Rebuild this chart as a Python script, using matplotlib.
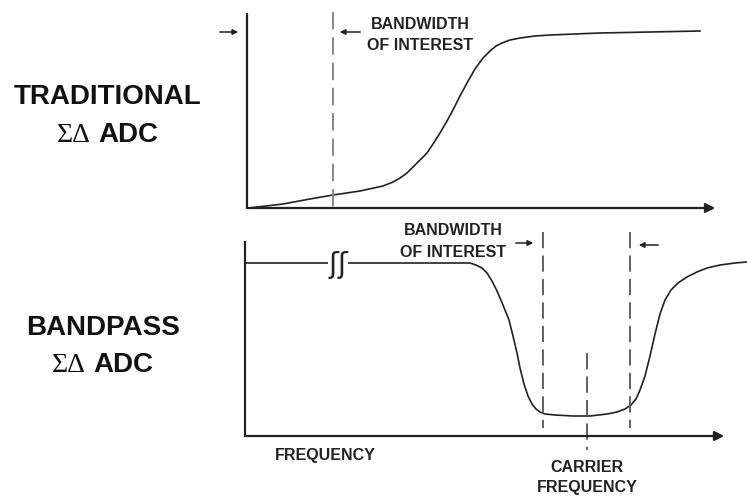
import matplotlib.pyplot as plt

# ***** Data (in image pixel units, y grows downwards) ***** #

# traditional sigma-delta noise shaping curve
trad_x = [249, 283, 310, 333, 360, 383, 393, 400, 407, 413, 420, 427, 433, 440, 447, 453, 460, 467, 475, 483, 490,
          496, 502, 510, 520, 535, 550, 575, 600, 650, 700]
trad_y = [208, 204, 199, 195, 191, 186, 182, 178, 173, 167, 160, 153, 144, 133, 121, 110, 96, 83, 69, 58, 51,
          46, 43, 40, 38, 36, 35, 34, 33, 32, 31]

# bandpass sigma-delta noise shaping curve
bp_x = [245, 337, 470, 476, 482, 487, 492, 497, 503, 509, 513, 517, 520, 524, 528, 532, 536, 540, 545, 555, 573,
        590, 607, 617, 625, 631, 636, 640, 645, 650, 655, 660, 665, 671, 678, 687, 697, 707, 720, 735, 747]
bp_y = [263, 263, 263, 265, 268, 273, 281, 291, 305, 320, 336, 353, 368, 384, 396, 404, 409, 412, 414, 415, 416,
        416, 414, 412, 409, 405, 399, 390, 376, 356, 334, 314, 300, 290, 283, 277, 272, 268, 265, 263, 262]

trad_bw_edge = 333
bp_bw_edges = [543, 630]
carrier_x = 587

# ***** Plot ***** #

fig = plt.figure(figsize=(7.47, 4.98), dpi=100)
ax = fig.add_axes([0, 0, 1, 1])
ax.set_xlim(0, 747)
ax.set_ylim(498, 0)
ax.axis('off')

ink = '#222222'
sans = 'Liberation Sans'
serif = 'Liberation Serif'

# axes of the top panel
ax.plot([247, 247], [14, 208], color=ink, lw=1.6)
ax.annotate('', xy=(718, 208), xytext=(246, 208),
            arrowprops=dict(arrowstyle='-|>', color=ink, lw=1.6, mutation_scale=14))
ax.plot(trad_x, trad_y, color=ink, lw=1.2)
ax.plot([trad_bw_edge, trad_bw_edge], [12, 208], color='#888888', lw=1.4, dashes=(9, 4))

# axes of the bottom panel
ax.plot([245, 245], [242, 436], color=ink, lw=1.6)
ax.annotate('', xy=(727, 436), xytext=(244, 436),
            arrowprops=dict(arrowstyle='-|>', color=ink, lw=1.6, mutation_scale=14))
ax.plot(bp_x, bp_y, color=ink, lw=1.2)
for xe in bp_bw_edges:
    ax.plot([xe, xe], [232, 428], color='#555555', lw=1.3, dashes=(9, 4))
ax.plot([carrier_x, carrier_x], [353, 450], color='#555555', lw=1.3, dashes=(9, 4))

# axis break mark
ax.text(338, 265, 'ʃʃ', fontsize=21, family='DejaVu Sans', color=ink, ha='center', va='center',
        bbox=dict(facecolor='white', edgecolor='none', pad=0))

# small arrows
arr = dict(arrowstyle='-|>', color=ink, lw=1.1, mutation_scale=8)
ax.annotate('', xy=(241, 32), xytext=(217, 32), arrowprops=arr)
ax.annotate('', xy=(337, 32), xytext=(363, 32), arrowprops=arr)
ax.annotate('', xy=(536, 243), xytext=(513, 243), arrowprops=arr)
ax.annotate('', xy=(636, 245), xytext=(661, 245), arrowprops=arr)

# small labels
small = dict(fontsize=11.5, family=sans, weight='bold', color=ink, ha='center', va='center')
ax.text(420, 24, 'BANDWIDTH', **small)
ax.text(420, 45, 'OF INTEREST', **small)
ax.text(453, 230, 'BANDWIDTH', **small)
ax.text(453, 252, 'OF INTEREST', **small)
ax.text(325, 455, 'FREQUENCY', **small)
ax.text(587, 467, 'CARRIER', **small)
ax.text(587, 487, 'FREQUENCY', **small)

# panel titles
big = dict(fontsize=20, family=sans, weight='bold', color='#111111', va='center')
ax.text(108, 97, 'TRADITIONAL', ha='center', **big)
ax.text(91, 135, 'ΣΔ', ha='right', fontsize=20, family=serif, color='#111111', va='center')
ax.text(98, 135, 'ADC', ha='left', **big)
ax.text(103, 328, 'BANDPASS', ha='center', **big)
ax.text(86, 365, 'ΣΔ', ha='right', fontsize=20, family=serif, color='#111111', va='center')
ax.text(93, 365, 'ADC', ha='left', **big)

fig.savefig('out.png', dpi=100)
